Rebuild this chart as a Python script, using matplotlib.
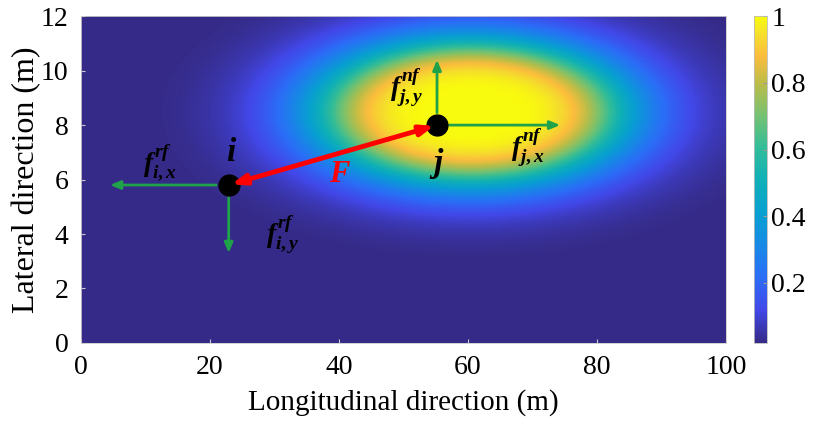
import numpy as np
import matplotlib
matplotlib.use('Agg')
import matplotlib.pyplot as plt
from matplotlib.colors import LinearSegmentedColormap

# risk field parameters
field_center = (60.5, 8.5)      # m
field_halfwidth = (23.5, 2.6)   # m, where value ~0.5
field_power = 2.6
vmin, vmax = 0.02, 1.0

# vehicles
veh_i = (22.9, 5.8)
veh_j = (55.2, 8.0)
# force arrow tips
f_i_x_tip = (4.5, 5.8)
f_i_y_tip = (22.9, 3.3)
f_j_y_tip = (55.2, 10.4)
f_j_x_tip = (74.3, 8.0)

xticks = [0, 20, 40, 60, 80, 100]
yticks = [0, 2, 4, 6, 8, 10, 12]
cticks = [0.2, 0.4, 0.6, 0.8, 1.0]
cticklabels = ['0.2', '0.4', '0.6', '0.8', '1']

# parula-like map
parula_pts = [
    (0.00, (0.2081, 0.1663, 0.5292)),
    (0.10, (0.2600, 0.2800, 0.9100)),
    (0.20, (0.1700, 0.4300, 0.9700)),
    (0.30, (0.0900, 0.5400, 0.9000)),
    (0.40, (0.0300, 0.6300, 0.8200)),
    (0.50, (0.0600, 0.6900, 0.7200)),
    (0.60, (0.2000, 0.7400, 0.6000)),
    (0.70, (0.4700, 0.7600, 0.4400)),
    (0.80, (0.7500, 0.7400, 0.2800)),
    (0.88, (0.9900, 0.7400, 0.2400)),
    (0.95, (0.9600, 0.8800, 0.1700)),
    (1.00, (0.9763, 0.9831, 0.0538)),
]
parula = LinearSegmentedColormap.from_list('parula', parula_pts, N=256)

plt.rcParams['font.family'] = 'Liberation Serif'
plt.rcParams['mathtext.fontset'] = 'custom'
plt.rcParams['mathtext.it'] = 'Liberation Serif:italic:bold'
plt.rcParams['mathtext.rm'] = 'Liberation Serif:bold'
plt.rcParams['mathtext.bf'] = 'Liberation Serif:bold'

gx = np.linspace(0, 100, 501)
gy = np.linspace(0, 12, 241)
X, Y = np.meshgrid(gx, gy)
r2 = ((X - field_center[0]) / field_halfwidth[0])**2 + ((Y - field_center[1]) / field_halfwidth[1])**2
Z = 1.0 / (1.0 + r2**field_power)

fig = plt.figure(figsize=(8.18, 4.26), dpi=100)
ax = fig.add_axes([0.099, 0.195, 0.7885, 0.767])
im = ax.pcolormesh(gx, gy, Z, cmap=parula, vmin=vmin, vmax=vmax, shading='gouraud')
ax.set_xlim(0, 100)
ax.set_ylim(0, 12)
ax.set_xticks(xticks)
ax.set_yticks(yticks)
ax.tick_params(labelsize=20, direction='in', length=3, color='#cccccc', pad=9)
for s in ax.spines.values():
    s.set_color('#cccccc')
    s.set_linewidth(0.6)
ax.set_xlabel('Longitudinal direction (m)', fontsize=21, labelpad=6)
ax.set_ylabel('Lateral direction (m)', fontsize=23, labelpad=0)

green = '#1fa24a'
garrow = dict(arrowstyle='-|>,head_length=0.6,head_width=0.25', color=green, lw=2,
              shrinkA=9, shrinkB=0)
for base, tip in [(veh_i, f_i_x_tip), (veh_i, f_i_y_tip), (veh_j, f_j_y_tip), (veh_j, f_j_x_tip)]:
    ax.annotate('', xy=tip, xytext=base, arrowprops=garrow)

ax.plot([veh_i[0], veh_j[0]], [veh_i[1], veh_j[1]], 'o', ms=15, color='k', zorder=4)
ax.annotate('', xy=veh_i, xytext=veh_j, zorder=5,
            arrowprops=dict(arrowstyle='<|-|>,head_length=0.8,head_width=0.3', color='red',
                            lw=3.5, shrinkA=2, shrinkB=2))

ax.text(23.4, 7.0, r'$i$', fontsize=24, ha='center', va='center')
ax.text(55.2, 6.6, r'$j$', fontsize=24, ha='center', va='center')
ax.text(40.2, 6.17, r'$F$', fontsize=22, ha='center', va='center', color='red')
ax.text(12.2, 6.6, r'$f^{rf}_{i,x}$', fontsize=20, ha='center', va='center')
ax.text(31.2, 3.96, r'$f^{rf}_{i,y}$', fontsize=20, ha='center', va='center')
ax.text(50.5, 9.36, r'$f^{nf}_{j,y}$', fontsize=20, ha='center', va='center')
ax.text(69.3, 7.16, r'$f^{nf}_{j,x}$', fontsize=20, ha='center', va='center')

cax = fig.add_axes([0.9218, 0.195, 0.0159, 0.767])
cb = fig.colorbar(im, cax=cax, ticks=cticks)
cb.ax.set_yticklabels(cticklabels)
cb.ax.tick_params(labelsize=20, direction='in', length=3, color='#999999', pad=3)
cb.outline.set_edgecolor('#bbbbbb')
cb.outline.set_linewidth(0.6)

fig.savefig('out.png', dpi=100)
